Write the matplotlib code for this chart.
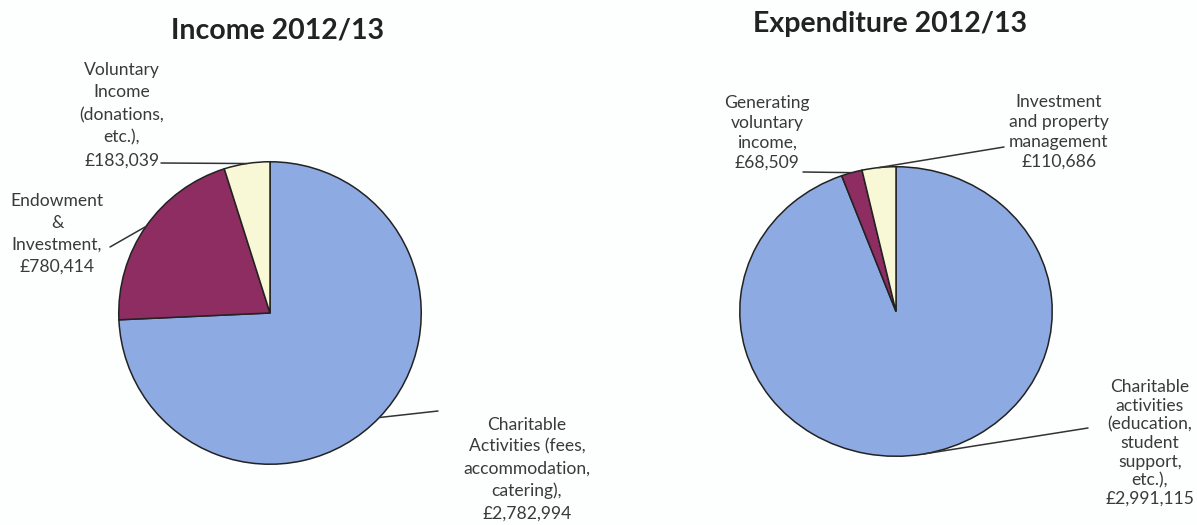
import numpy as np
import matplotlib
matplotlib.use("Agg")
import matplotlib.pyplot as plt
from matplotlib.patches import ConnectionPatch

plt.rcParams['font.family'] = ['Lato', 'DejaVu Sans']

# data
income_labels = ["Charitable\nActivities (fees,\naccommodation,\ncatering),\n£2,782,994",
                 "Endowment\n&\nInvestment,\n£780,414",
                 "Voluntary\nIncome\n(donations,\netc.),\n£183,039"]
income_values = [2782994, 780414, 183039]

expend_labels = ["Charitable\nactivities\n(education,\nstudent\nsupport,\netc.),\n£2,991,115",
                 "Generating\nvoluntary\nincome,\n£68,509",
                 "Investment\nand property\nmanagement\n£110,686"]
expend_values = [2991115, 68509, 110686]

colors = ["#8eaae2", "#8e2d62", "#f9f8d6"]
TXT = "#3a3a3a"

W, H = 1197, 525
fig = plt.figure(figsize=(W / 100, H / 100), dpi=100)
fig.patch.set_facecolor("#fdfefe")


def px(x, y):
    # pixel position (from top-left) -> figure fraction
    return x / W, 1 - y / H


def pie_axes(x0, y0, x1, y1):
    ax = fig.add_axes([x0 / W, 1 - y1 / H, (x1 - x0) / W, (y1 - y0) / H])
    return ax


def draw_pie(ax, values):
    wedges, _ = ax.pie(values, colors=colors, startangle=90, counterclock=False,
                       wedgeprops=dict(edgecolor="#222222", linewidth=1.1))
    ax.set_aspect("auto")
    ax.set_xlim(-1.005, 1.005)
    ax.set_ylim(-1.005, 1.005)
    ax.axis("off")
    return wedges


def leader(ax, wedge, start):
    mid = np.deg2rad((wedge.theta1 + wedge.theta2) / 2)
    con = ConnectionPatch(xyA=px(*start), coordsA=fig.transFigure,
                          xyB=(np.cos(mid), np.sin(mid)), coordsB=ax.transData,
                          color="#333333", lw=1.1)
    fig.add_artist(con)


# Income
ax1 = pie_axes(118, 161, 422, 465)
w1 = draw_pie(ax1, income_values)
fig.text(*px(278, 30), "Income 2012/13", ha="center", va="center",
         fontsize=20.5, fontweight="bold", color="#222222")

fig.text(*px(527, 469), income_labels[0], ha="center", va="center",
         fontsize=12.6, color=TXT, linespacing=1.45)
fig.text(*px(57, 234), income_labels[1], ha="center", va="center",
         fontsize=12.6, color=TXT, linespacing=1.45)
fig.text(*px(122, 115), income_labels[2], ha="center", va="center",
         fontsize=12.6, color=TXT, linespacing=1.5)

leader(ax1, w1[0], (438, 411))
leader(ax1, w1[1], (110, 247))
leader(ax1, w1[2], (161, 163))

# Expenditure
ax2 = pie_axes(739, 166, 1053, 457)
w2 = draw_pie(ax2, expend_values)
fig.text(*px(890, 24), "Expenditure 2012/13", ha="center", va="center",
         fontsize=20.5, fontweight="bold", color="#222222")

fig.text(*px(1150, 443), expend_labels[0], ha="center", va="center",
         fontsize=12.6, color=TXT, linespacing=1.2)
fig.text(*px(767, 133), expend_labels[1], ha="center", va="center",
         fontsize=12.6, color=TXT, linespacing=1.3)
fig.text(*px(1059, 132), expend_labels[2], ha="center", va="center",
         fontsize=12.6, color=TXT, linespacing=1.3)

leader(ax2, w2[0], (1088, 428))
leader(ax2, w2[1], (803, 172))
leader(ax2, w2[2], (1004, 147))

fig.savefig("out.png", dpi=100, facecolor=fig.get_facecolor())
